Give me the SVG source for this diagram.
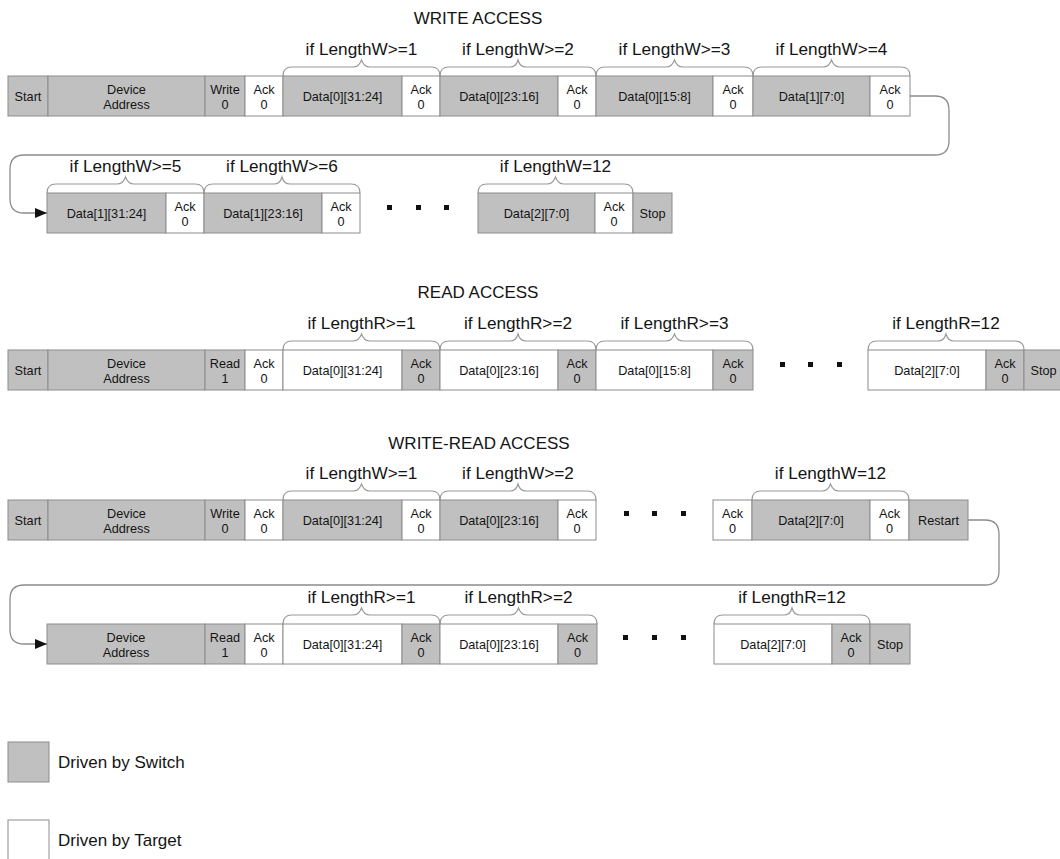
<svg xmlns="http://www.w3.org/2000/svg" width="1060" height="859" viewBox="0 0 1060 859">
  <style>
    text { font-family: "Liberation Sans", Arial, Helvetica, sans-serif; fill: #141414; }
    .sw { fill: #c0c0c0; stroke: #8c8c8c; stroke-width: 1; }
    .tg { fill: #ffffff; stroke: #8c8c8c; stroke-width: 1; }
    .t { font-size: 12.7px; text-anchor: middle; }
    .lbl { font-size: 17.2px; text-anchor: middle; }
    .ttl { font-size: 17px; text-anchor: middle; }
    .leg { font-size: 17px; }
    .brace { fill: none; stroke: #9a9a9a; stroke-width: 1.2; }
    .conn { fill: none; stroke: #8c8c8c; stroke-width: 1.3; }
    .dot { fill: #111111; }
  </style>
  <defs>
    <marker id="arrow" markerWidth="12" markerHeight="10" refX="12" refY="5" orient="auto" markerUnits="userSpaceOnUse">
      <path d="M0,0 L12,5 L0,10 Z" fill="#111111"/>
    </marker>
  </defs>

  <!-- ================= WRITE ACCESS ================= -->
  <text class="ttl" x="478" y="24">WRITE ACCESS</text>
  <g id="w-braces">
    <path class="brace" d="M283,76 Q283,67 292,67 H353 Q359,67 361.5,60 Q364,67 370,67 H431 Q440,67 440,76"/>
    <path class="brace" d="M440,76 Q440,67 449,67 H510 Q516,67 518,60 Q520,67 526,67 H587 Q596,67 596,76"/>
    <path class="brace" d="M596,76 Q596,67 605,67 H666 Q672,67 674.5,60 Q677,67 683,67 H744 Q753,67 753,76"/>
    <path class="brace" d="M753,76 Q753,67 762,67 H823 Q829,67 831.5,60 Q834,67 840,67 H901 Q910,67 910,76"/>
    <text class="lbl" x="361.5" y="55">if LengthW&gt;=1</text>
    <text class="lbl" x="518" y="55">if LengthW&gt;=2</text>
    <text class="lbl" x="674.5" y="55">if LengthW&gt;=3</text>
    <text class="lbl" x="831.5" y="55">if LengthW&gt;=4</text>
  </g>
  <g id="w-start"><rect class="sw" x="8" y="76" width="40" height="40"/><text class="t" x="28" y="100.5">Start</text></g>
  <g id="w-addr"><rect class="sw" x="48" y="76" width="157" height="40"/><text class="t" x="126.5" y="94">Device</text><text class="t" x="126.5" y="109">Address</text></g>
  <g id="w-rw"><rect class="sw" x="205" y="76" width="40" height="40"/><text class="t" x="225" y="94">Write</text><text class="t" x="225" y="109">0</text></g>
  <g id="w-ack0"><rect class="tg" x="245" y="76" width="38" height="40"/><text class="t" x="264" y="94">Ack</text><text class="t" x="264" y="109">0</text></g>
  <g id="w-d1"><rect class="sw" x="283" y="76" width="119" height="40"/><text class="t" x="342.5" y="100.5">Data[0][31:24]</text></g>
  <g id="w-ack1"><rect class="tg" x="402" y="76" width="38" height="40"/><text class="t" x="421" y="94">Ack</text><text class="t" x="421" y="109">0</text></g>
  <g id="w-d2"><rect class="sw" x="440" y="76" width="118" height="40"/><text class="t" x="499" y="100.5">Data[0][23:16]</text></g>
  <g id="w-ack2"><rect class="tg" x="558" y="76" width="38" height="40"/><text class="t" x="577" y="94">Ack</text><text class="t" x="577" y="109">0</text></g>
  <g id="w-d3"><rect class="sw" x="596" y="76" width="117" height="40"/><text class="t" x="654.5" y="100.5">Data[0][15:8]</text></g>
  <g id="w-ack3"><rect class="tg" x="713" y="76" width="40" height="40"/><text class="t" x="733" y="94">Ack</text><text class="t" x="733" y="109">0</text></g>
  <g id="w-d4"><rect class="sw" x="753" y="76" width="117" height="40"/><text class="t" x="811.5" y="100.5">Data[1][7:0]</text></g>
  <g id="w-ack4"><rect class="tg" x="870" y="76" width="40" height="40"/><text class="t" x="890" y="94">Ack</text><text class="t" x="890" y="109">0</text></g>

  <!-- write access, continued -->
  <g id="w2-braces">
    <path class="brace" d="M47,193 Q47,184 56,184 H117 Q123,184 125.5,177 Q128,184 134,184 H195 Q204,184 204,193"/>
    <path class="brace" d="M204,193 Q204,184 213,184 H274 Q280,184 282,177 Q284,184 290,184 H351 Q360,184 360,193"/>
    <path class="brace" d="M478,193 Q478,184 487,184 H547 Q553,184 555.5,177 Q558,184 564,184 H624 Q633,184 633,193"/>
    <text class="lbl" x="125.5" y="172">if LengthW&gt;=5</text>
    <text class="lbl" x="282" y="172">if LengthW&gt;=6</text>
    <text class="lbl" x="555.5" y="172">if LengthW=12</text>
  </g>
  <g id="w-d5"><rect class="sw" x="47" y="193" width="119" height="40"/><text class="t" x="106.5" y="217.5">Data[1][31:24]</text></g>
  <g id="w-ack5"><rect class="tg" x="166" y="193" width="38" height="40"/><text class="t" x="185" y="211">Ack</text><text class="t" x="185" y="226">0</text></g>
  <g id="w-d6"><rect class="sw" x="204" y="193" width="118" height="40"/><text class="t" x="263" y="217.5">Data[1][23:16]</text></g>
  <g id="w-ack6"><rect class="tg" x="322" y="193" width="38" height="40"/><text class="t" x="341" y="211">Ack</text><text class="t" x="341" y="226">0</text></g>
  <g id="w-dots"><rect class="dot" x="387" y="205" width="5" height="5"/><rect class="dot" x="416" y="205" width="5" height="5"/><rect class="dot" x="444" y="205" width="5" height="5"/></g>
  <g id="w-d12"><rect class="sw" x="478" y="193" width="117" height="40"/><text class="t" x="536.5" y="217.5">Data[2][7:0]</text></g>
  <g id="w-ack12"><rect class="tg" x="595" y="193" width="38" height="40"/><text class="t" x="614" y="211">Ack</text><text class="t" x="614" y="226">0</text></g>
  <g id="w-stop"><rect class="sw" x="633" y="193" width="39" height="40"/><text class="t" x="652.5" y="217.5">Stop</text></g>

  <!-- ================= READ ACCESS ================= -->
  <text class="ttl" x="478" y="298">READ ACCESS</text>
  <g id="r-braces">
    <path class="brace" d="M283,350 Q283,341 292,341 H353 Q359,341 361.5,334 Q364,341 370,341 H431 Q440,341 440,350"/>
    <path class="brace" d="M440,350 Q440,341 449,341 H510 Q516,341 518,334 Q520,341 526,341 H587 Q596,341 596,350"/>
    <path class="brace" d="M596,350 Q596,341 605,341 H666 Q672,341 674.5,334 Q677,341 683,341 H744 Q753,341 753,350"/>
    <path class="brace" d="M868,350 Q868,341 877,341 H938 Q944,341 946,334 Q948,341 954,341 H1015 Q1024,341 1024,350"/>
    <text class="lbl" x="361.5" y="329">if LengthR&gt;=1</text>
    <text class="lbl" x="518" y="329">if LengthR&gt;=2</text>
    <text class="lbl" x="674.5" y="329">if LengthR&gt;=3</text>
    <text class="lbl" x="946" y="329">if LengthR=12</text>
  </g>
  <g id="r-start"><rect class="sw" x="8" y="350" width="40" height="40"/><text class="t" x="28" y="374.5">Start</text></g>
  <g id="r-addr"><rect class="sw" x="48" y="350" width="157" height="40"/><text class="t" x="126.5" y="368">Device</text><text class="t" x="126.5" y="383">Address</text></g>
  <g id="r-rw"><rect class="sw" x="205" y="350" width="40" height="40"/><text class="t" x="225" y="368">Read</text><text class="t" x="225" y="383">1</text></g>
  <g id="r-ack0"><rect class="tg" x="245" y="350" width="38" height="40"/><text class="t" x="264" y="368">Ack</text><text class="t" x="264" y="383">0</text></g>
  <g id="r-d1"><rect class="tg" x="283" y="350" width="119" height="40"/><text class="t" x="342.5" y="374.5">Data[0][31:24]</text></g>
  <g id="r-ack1"><rect class="sw" x="402" y="350" width="38" height="40"/><text class="t" x="421" y="368">Ack</text><text class="t" x="421" y="383">0</text></g>
  <g id="r-d2"><rect class="tg" x="440" y="350" width="118" height="40"/><text class="t" x="499" y="374.5">Data[0][23:16]</text></g>
  <g id="r-ack2"><rect class="sw" x="558" y="350" width="38" height="40"/><text class="t" x="577" y="368">Ack</text><text class="t" x="577" y="383">0</text></g>
  <g id="r-d3"><rect class="tg" x="596" y="350" width="117" height="40"/><text class="t" x="654.5" y="374.5">Data[0][15:8]</text></g>
  <g id="r-ack3"><rect class="sw" x="713" y="350" width="40" height="40"/><text class="t" x="733" y="368">Ack</text><text class="t" x="733" y="383">0</text></g>
  <g id="r-dots"><rect class="dot" x="780" y="362" width="5" height="5"/><rect class="dot" x="808" y="362" width="5" height="5"/><rect class="dot" x="837" y="362" width="5" height="5"/></g>
  <g id="r-d12"><rect class="tg" x="868" y="350" width="118" height="40"/><text class="t" x="927" y="374.5">Data[2][7:0]</text></g>
  <g id="r-ack12"><rect class="sw" x="986" y="350" width="38" height="40"/><text class="t" x="1005" y="368">Ack</text><text class="t" x="1005" y="383">0</text></g>
  <g id="r-stop"><rect class="sw" x="1024" y="350" width="39" height="40"/><text class="t" x="1043.5" y="374.5">Stop</text></g>

  <!-- ================= WRITE-READ ACCESS ================= -->
  <text class="ttl" x="479" y="449">WRITE-READ ACCESS</text>
  <g id="wr-braces">
    <path class="brace" d="M283,500 Q283,491 292,491 H353 Q359,491 361.5,484 Q364,491 370,491 H431 Q440,491 440,500"/>
    <path class="brace" d="M440,500 Q440,491 449,491 H510 Q516,491 518,484 Q520,491 526,491 H587 Q596,491 596,500"/>
    <path class="brace" d="M752,500 Q752,491 761,491 H822 Q828,491 830.5,484 Q833,491 839,491 H900 Q909,491 909,500"/>
    <text class="lbl" x="361.5" y="479">if LengthW&gt;=1</text>
    <text class="lbl" x="518" y="479">if LengthW&gt;=2</text>
    <text class="lbl" x="830.5" y="479">if LengthW=12</text>
  </g>
  <g id="wr-start"><rect class="sw" x="8" y="500" width="40" height="40"/><text class="t" x="28" y="524.5">Start</text></g>
  <g id="wr-addr"><rect class="sw" x="48" y="500" width="157" height="40"/><text class="t" x="126.5" y="518">Device</text><text class="t" x="126.5" y="533">Address</text></g>
  <g id="wr-rw"><rect class="sw" x="205" y="500" width="40" height="40"/><text class="t" x="225" y="518">Write</text><text class="t" x="225" y="533">0</text></g>
  <g id="wr-ack0"><rect class="tg" x="245" y="500" width="38" height="40"/><text class="t" x="264" y="518">Ack</text><text class="t" x="264" y="533">0</text></g>
  <g id="wr-d1"><rect class="sw" x="283" y="500" width="119" height="40"/><text class="t" x="342.5" y="524.5">Data[0][31:24]</text></g>
  <g id="wr-ack1"><rect class="tg" x="402" y="500" width="38" height="40"/><text class="t" x="421" y="518">Ack</text><text class="t" x="421" y="533">0</text></g>
  <g id="wr-d2"><rect class="sw" x="440" y="500" width="118" height="40"/><text class="t" x="499" y="524.5">Data[0][23:16]</text></g>
  <g id="wr-ack2"><rect class="tg" x="558" y="500" width="38" height="40"/><text class="t" x="577" y="518">Ack</text><text class="t" x="577" y="533">0</text></g>
  <g id="wr-dots"><rect class="dot" x="624" y="511" width="5" height="5"/><rect class="dot" x="652" y="511" width="5" height="5"/><rect class="dot" x="681" y="511" width="5" height="5"/></g>
  <g id="wr-ack11"><rect class="tg" x="713" y="500" width="39" height="40"/><text class="t" x="732.5" y="518">Ack</text><text class="t" x="732.5" y="533">0</text></g>
  <g id="wr-d12"><rect class="sw" x="752" y="500" width="118" height="40"/><text class="t" x="811" y="524.5">Data[2][7:0]</text></g>
  <g id="wr-ack12"><rect class="tg" x="870" y="500" width="39" height="40"/><text class="t" x="889.5" y="518">Ack</text><text class="t" x="889.5" y="533">0</text></g>
  <g id="wr-restart"><rect class="sw" x="909" y="500" width="59" height="40"/><text class="t" x="938.5" y="524.5">Restart</text></g>

  <!-- write-read access, read phase -->
  <g id="wr2-braces">
    <path class="brace" d="M283,624 Q283,615 292,615 H353 Q359,615 361.5,608 Q364,615 370,615 H431 Q440,615 440,624"/>
    <path class="brace" d="M440,624 Q440,615 449,615 H510 Q516,615 518.5,608 Q521,615 527,615 H588 Q597,615 597,624"/>
    <path class="brace" d="M714,624 Q714,615 723,615 H784 Q790,615 792,608 Q794,615 800,615 H861 Q870,615 870,624"/>
    <text class="lbl" x="361.5" y="603">if LengthR&gt;=1</text>
    <text class="lbl" x="518.5" y="603">if LengthR&gt;=2</text>
    <text class="lbl" x="792" y="603">if LengthR=12</text>
  </g>
  <g id="wr2-addr"><rect class="sw" x="47" y="624" width="158" height="40"/><text class="t" x="126" y="642">Device</text><text class="t" x="126" y="657">Address</text></g>
  <g id="wr2-rw"><rect class="sw" x="205" y="624" width="40" height="40"/><text class="t" x="225" y="642">Read</text><text class="t" x="225" y="657">1</text></g>
  <g id="wr2-ack0"><rect class="tg" x="245" y="624" width="38" height="40"/><text class="t" x="264" y="642">Ack</text><text class="t" x="264" y="657">0</text></g>
  <g id="wr2-d1"><rect class="tg" x="283" y="624" width="119" height="40"/><text class="t" x="342.5" y="648.5">Data[0][31:24]</text></g>
  <g id="wr2-ack1"><rect class="sw" x="402" y="624" width="38" height="40"/><text class="t" x="421" y="642">Ack</text><text class="t" x="421" y="657">0</text></g>
  <g id="wr2-d2"><rect class="tg" x="440" y="624" width="118" height="40"/><text class="t" x="499" y="648.5">Data[0][23:16]</text></g>
  <g id="wr2-ack2"><rect class="sw" x="558" y="624" width="39" height="40"/><text class="t" x="577.5" y="642">Ack</text><text class="t" x="577.5" y="657">0</text></g>
  <g id="wr2-dots"><rect class="dot" x="623" y="635" width="5" height="5"/><rect class="dot" x="652" y="635" width="5" height="5"/><rect class="dot" x="681" y="635" width="5" height="5"/></g>
  <g id="wr2-d12"><rect class="tg" x="714" y="624" width="118" height="40"/><text class="t" x="773" y="648.5">Data[2][7:0]</text></g>
  <g id="wr2-ack12"><rect class="sw" x="832" y="624" width="38" height="40"/><text class="t" x="851" y="642">Ack</text><text class="t" x="851" y="657">0</text></g>
  <g id="wr2-stop"><rect class="sw" x="870" y="624" width="40" height="40"/><text class="t" x="890" y="648.5">Stop</text></g>

  <!-- wrap-around connectors -->
  <g id="connectors">
    <path class="conn" marker-end="url(#arrow)" d="M910,96 H935 Q949,96 949,110 V141 Q949,155 935,155 H24 Q10,155 10,169 V199 Q10,213 24,213 H47"/>
    <path class="conn" marker-end="url(#arrow)" d="M968,520 H985 Q999,520 999,534 V571 Q999,585 985,585 H24 Q10,585 10,599 V630 Q10,644 24,644 H47"/>
  </g>

  <!-- legend -->
  <g id="legend-switch"><rect class="sw" x="8" y="742" width="41" height="40"/><text class="leg" x="58" y="768">Driven by Switch</text></g>
  <g id="legend-target"><rect class="tg" x="8" y="820" width="41" height="40"/><text class="leg" x="58" y="846">Driven by Target</text></g>
</svg>
